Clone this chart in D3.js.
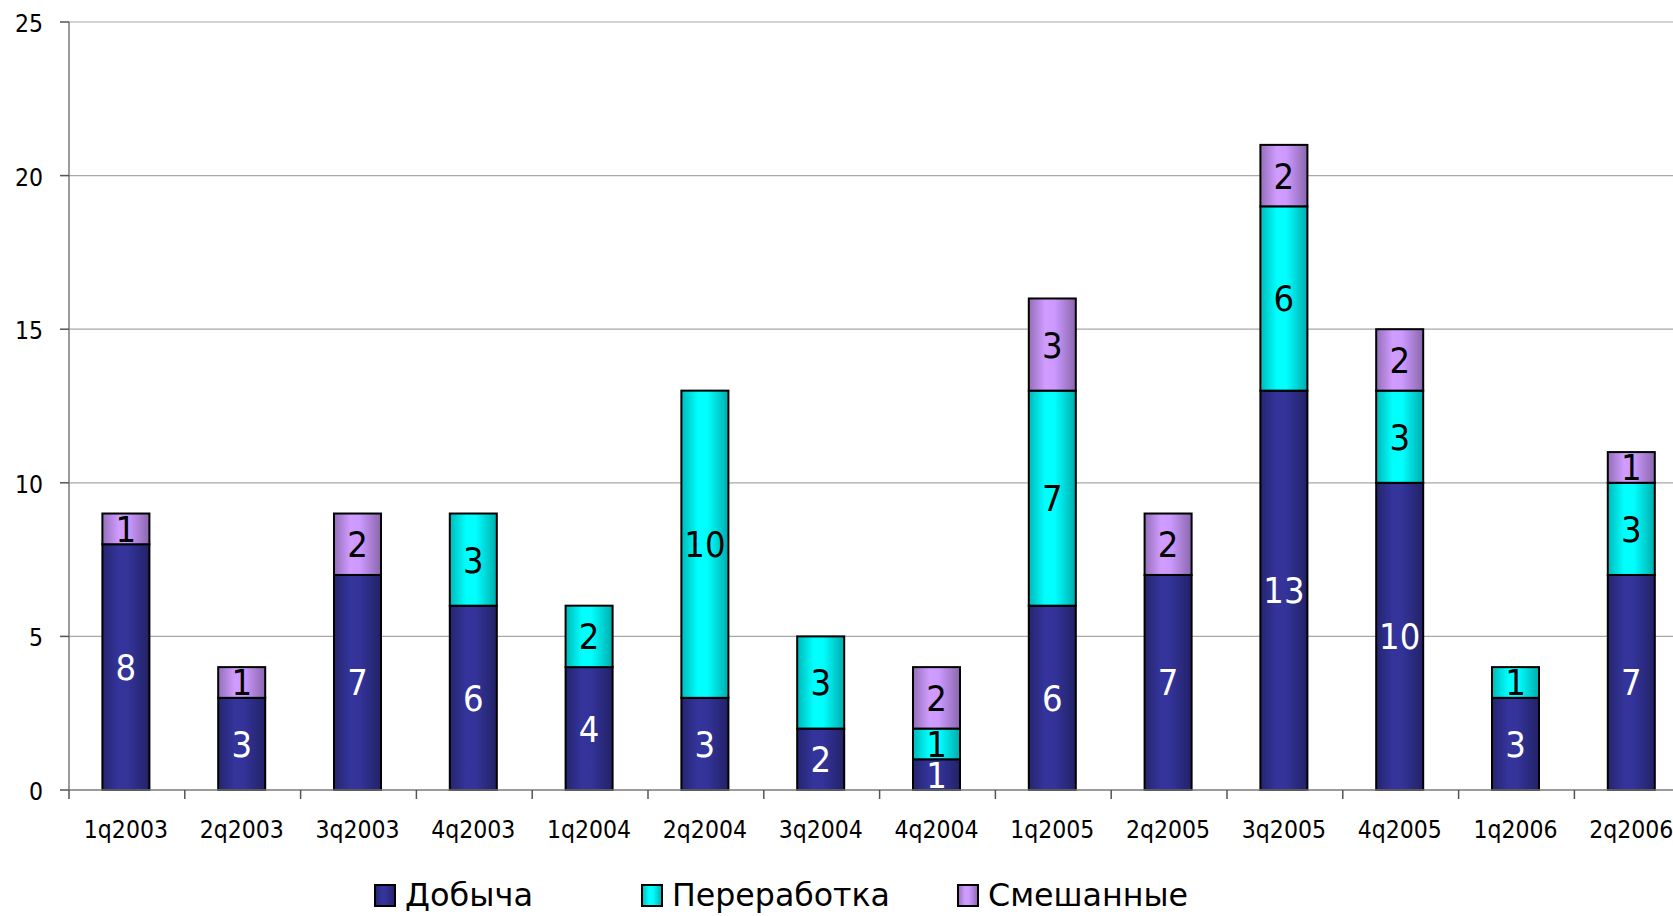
<!DOCTYPE html>
<html><head><meta charset="utf-8">
<script src="https://cdn.jsdelivr.net/npm/d3@7/dist/d3.min.js"></script>
<style>
html,body{margin:0;padding:0;background:#fff;}
svg{display:block;font-family:'DejaVu Sans Condensed','DejaVu Sans',sans-serif;}
</style></head>
<body>
<svg id="chart" width="1673" height="916"></svg>
<script>
const categories = ["1q2003","2q2003","3q2003","4q2003","1q2004","2q2004","3q2004","4q2004","1q2005","2q2005","3q2005","4q2005","1q2006","2q2006"];
const seriesNames = ["Добыча","Переработка","Смешанные"];
const dobycha     = [8,3,7,6,4,3,2,1,6,7,13,10,3,7];
const pererabotka = [0,0,0,3,2,10,3,1,7,0,6,3,1,3];
const smeshannye  = [1,1,2,0,0,0,0,2,3,2,2,2,0,1];
const yTicks = [0,5,10,15,20,25];
const colors = ["#333399","#00FFFF","#CC99FF"];
const labelColors = ["#ffffff","#000000","#000000"];

(function(){
const svg = d3.select("#chart");
const W = 1673, H = 916;
const plotLeft = 69, plotTop = 22, plotBottom = 790;
const step = 115.8;
const x = d3.scaleBand().domain(categories).range([68, 68 + step*categories.length]).paddingInner(0.594).paddingOuter(0.297);
const y = d3.scaleLinear().domain([0,25]).range([plotBottom, plotTop]);

// gradients
const defs = svg.append("defs");
colors.forEach((c,i)=>{
  const g = defs.append("linearGradient").attr("id","g"+i).attr("x1","0").attr("x2","1").attr("y1","0").attr("y2","0");
  const base = d3.color(c);
  g.append("stop").attr("offset","0%").attr("stop-color", base.darker(0.9));
  g.append("stop").attr("offset","35%").attr("stop-color", base.brighter(0.05));
  g.append("stop").attr("offset","55%").attr("stop-color", c);
  g.append("stop").attr("offset","100%").attr("stop-color", base.darker(1.1));
});

// gridlines
svg.append("g").selectAll("line").data(yTicks.filter(d=>d>0)).join("line")
  .attr("x1", plotLeft).attr("x2", W).attr("y1", d=>y(d)).attr("y2", d=>y(d))
  .attr("stroke","#a8a8a8").attr("stroke-width",1.2);

// y axis
svg.append("line").attr("x1",plotLeft).attr("x2",plotLeft).attr("y1",plotTop).attr("y2",plotBottom).attr("stroke","#7a7a7a").attr("stroke-width",1.5);
svg.append("g").selectAll("line").data(yTicks).join("line")
  .attr("x1", plotLeft-9).attr("x2", plotLeft).attr("y1", d=>y(d)).attr("y2", d=>y(d))
  .attr("stroke","#555").attr("stroke-width",1.5);
svg.append("g").selectAll("text").data(yTicks).join("text")
  .attr("x", 43).attr("y", d=>y(d)+10).attr("text-anchor","end")
  .attr("font-size",24.5).attr("fill","#000").text(d=>d);

// stacked data
const rows = categories.map((c,i)=>({cat:c, [seriesNames[0]]:dobycha[i], [seriesNames[1]]:pererabotka[i], [seriesNames[2]]:smeshannye[i]}));
const stack = d3.stack().keys(seriesNames)(rows);

const bars = svg.append("g");
stack.forEach((layer, si)=>{
  bars.append("g").selectAll("rect").data(layer.filter(d=>d[1]-d[0]>0)).join("rect")
    .attr("x", d=>x(d.data.cat)).attr("width", x.bandwidth())
    .attr("y", d=>y(d[1])).attr("height", d=>y(d[0])-y(d[1]))
    .attr("fill","url(#g"+si+")").attr("stroke","#000").attr("stroke-width",2);
});

// x axis
svg.append("line").attr("x1",plotLeft).attr("x2",W).attr("y1",plotBottom).attr("y2",plotBottom).attr("stroke","#7a7a7a").attr("stroke-width",1.5);
svg.append("g").selectAll("line").data(d3.range(categories.length+1)).join("line")
  .attr("x1", i=>68+step*i+1).attr("x2", i=>68+step*i+1).attr("y1", plotBottom).attr("y2", plotBottom+9)
  .attr("stroke","#555").attr("stroke-width",1.5);
svg.append("g").selectAll("text").data(categories).join("text")
  .attr("x", d=>x(d)+x.bandwidth()/2).attr("y", 838).attr("text-anchor","middle")
  .attr("font-size",24.5).attr("fill","#000").text(d=>d);

// value labels
stack.forEach((layer, si)=>{
  bars.append("g").selectAll("text").data(layer.filter(d=>d[1]-d[0]>0)).join("text")
    .attr("x", d=>x(d.data.cat)+x.bandwidth()/2)
    .attr("y", d=>(y(d[0])+y(d[1]))/2 + 13)
    .attr("text-anchor","middle").attr("font-size",36).attr("fill",labelColors[si])
    .text(d=>d[1]-d[0]);
});

// legend
const legendX = [375, 642, 958];
const legendTextW = [128, 218, 200];
const lg = svg.append("g");
seriesNames.forEach((n,i)=>{
  lg.append("rect").attr("x",legendX[i]).attr("y",885).attr("width",20).attr("height",21)
    .attr("fill","url(#g"+i+")").attr("stroke","#000").attr("stroke-width",2);
  lg.append("text").attr("x",legendX[i]+30).attr("y",906).attr("font-size",32)
    .attr("textLength",legendTextW[i]).attr("lengthAdjust","spacingAndGlyphs")
    .attr("fill","#000").text(n);
});
})();
</script>
</body></html>
